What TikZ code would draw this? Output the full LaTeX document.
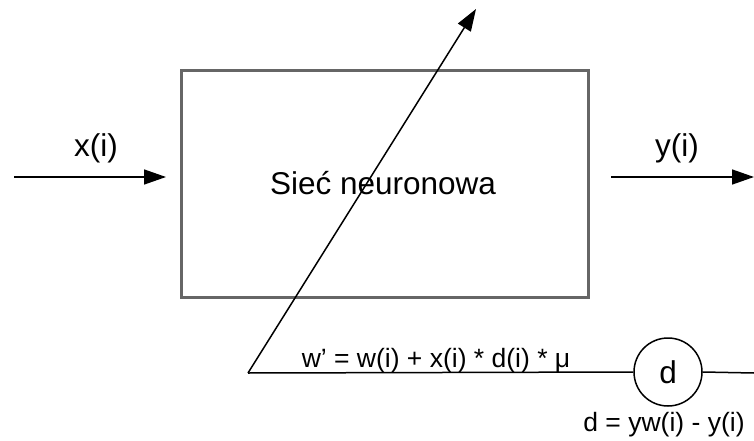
\documentclass[tikz,border=0pt]{standalone}
\usepackage{fontspec}
\setmainfont{Liberation Sans}
\usetikzlibrary{arrows.meta}
\begin{document}
\begin{tikzpicture}[x=1pt,y=-1pt,
  conn/.style={line width=1.5pt,draw=black},
  arr/.style={conn,-{Triangle[length=22pt,width=15pt]}},
  big/.style={font=\fontsize{31.5}{34}\selectfont,inner sep=0pt},
  small/.style={font=\fontsize{26.5}{30}\selectfont,inner sep=0pt}]
\useasboundingbox (0,0) rectangle (754,441);
\node[draw=black!60,line width=3pt,minimum width=407pt,minimum height=226pt,inner sep=0pt] (net) at (384.5,184) {};
\node[big] (lab) at (383,183) {Sieć neuronowa};
\coordinate (inL) at (14,177);
\coordinate (inR) at (166,177);
\coordinate (outL) at (611,177);
\coordinate (outR) at (754,177);
\draw[arr] (inL) -- (inR);
\draw[arr] (outL) -- (outR);
\node[big] (xi) at (96,148) {x(i)};
\node[big] (yi) at (677,148) {y(i)};
\node[circle,draw=black,line width=1.5pt,minimum size=68pt,inner sep=0pt,big] (d) at (668,372) {d};
\coordinate (corner) at (248,373);
\coordinate (tip) at (476,9);
\coordinate (rightend) at (754,373);
\draw[conn] (corner) -- (d.west);
\draw[conn] (d.east) -- (rightend);
\draw[arr] (corner) -- (tip);
\node[small] (form) at (436,361) {w\char"0027{} = w(i) + x(i) * d(i) * μ};
\node[small] (dform) at (664,425) {d = yw(i) - y(i)};
\end{tikzpicture}
\end{document}
